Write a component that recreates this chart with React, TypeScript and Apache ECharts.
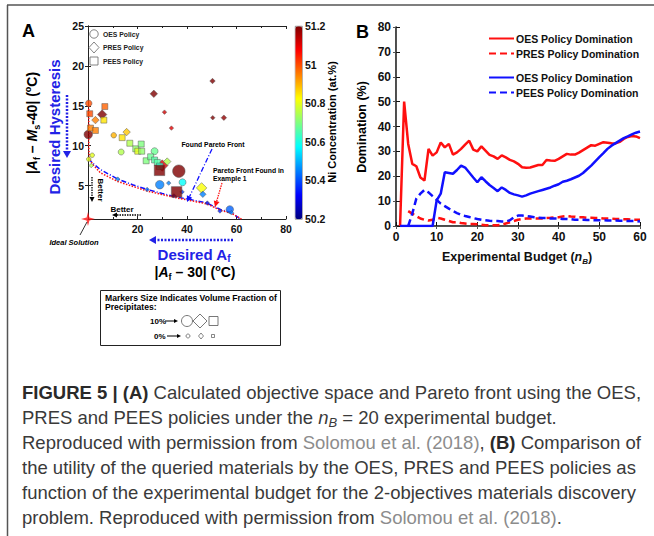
import React, { useEffect, useRef } from 'react';
import * as echarts from 'echarts';

const FONT = '"Liberation Sans", Arial, Helvetica, sans-serif';

// ---------- Panel A data: [ |Af-30| , |Af-Ms-40| , Ni at.% , volume fraction % ] ----------
const oesPoints = [
  [0.3, 15.3, 51.0, 2], [0.1, 11.4, 51.2, 4], [1.7, 8.8, 50.8, 0], [0.3, 8.3, 50.8, 0],
  [10.4, 11.3, 50.9, 1], [13.4, 9.2, 50.75, 1.5], [26.9, 9.3, 50.68, 2.5], [36.7, 6.8, 51.2, 8],
  [29.0, 5.1, 50.45, 4], [38.2, 5.4, 50.58, 2.5], [57.3, 2.0, 50.42, 3],
];
const presPoints = [
  [3.0, 13.2, 50.95, 3], [5.7, 13.9, 51.2, 5], [15.6, 11.7, 50.88, 3], [30.0, 7.5, 51.1, 7],
  [32.0, 8.0, 50.75, 3], [45.9, 4.7, 50.82, 6], [46.4, 3.9, 50.45, 2], [32.6, 5.3, 50.45, 0],
  [38.0, 4.2, 50.38, 0], [26.6, 16.5, 51.2, 3], [50.3, 18.1, 51.2, 1], [30.9, 14.2, 51.12, 0],
  [33.7, 12.2, 51.1, 0], [50.4, 13.5, 51.2, 0], [54.9, 13.5, 51.18, 1], [1.3, 7.5, 50.75, 0],
  [12.0, 5.8, 50.45, 0], [23.9, 4.5, 50.42, 0], [34.7, 3.7, 50.35, 0], [48.2, 2.8, 50.3, 0],
  [53.3, 1.8, 50.35, 0], [57.9, 1.6, 50.45, 0],
];
const peesPoints = [
  [0.7, 14.0, 51.0, 1.5], [1.0, 12.2, 50.95, 1.5], [3.0, 11.9, 50.95, 1.5], [6.4, 13.2, 50.85, 1.5],
  [6.8, 14.9, 50.98, 1.5], [13.8, 11.0, 50.85, 1.5], [16.9, 10.3, 50.75, 1.5], [19.3, 9.6, 50.72, 1.5],
  [20.1, 9.3, 50.8, 1.5], [21.5, 10.2, 50.7, 1.5], [21.7, 9.3, 50.72, 1.5], [23.5, 8.1, 50.7, 1.5],
  [25.3, 8.6, 50.68, 1.5], [26.9, 8.2, 50.66, 1.5], [28.0, 7.9, 50.66, 1.5], [29.0, 7.4, 50.62, 2],
  [28.9, 6.9, 51.2, 6], [35.8, 4.2, 51.2, 6],
];
const frontFoundX = [0.3, 1.5, 5, 12, 18, 24, 30, 35, 42, 48, 53.5, 58, 61.5];
const frontFoundY = [8.4, 7.9, 7.0, 5.8, 5.1, 4.5, 4.0, 3.6, 3.2, 2.8, 2.0, 1.6, 0.8];
const frontEx1X = [0.3, 0.3, 0.5, 2, 5, 12, 24, 35, 48, 53.5, 58, 62];
const frontEx1Y = [15.0, 10.0, 8.4, 7.6, 6.6, 5.5, 4.3, 3.5, 2.7, 1.9, 1.5, 0.8];
const idealSolution = [[0, 0.8]];
const aYTicks = [5, 10, 15, 20, 25];

// ---------- Panel B data ----------
const budget = [1, 2, 3, 4, 5, 6, 7, 8, 9, 10, 11, 12, 13, 14, 15, 16, 17, 18, 19, 20, 21, 22, 23, 24, 25, 26, 27, 28, 29, 30,
  31, 32, 33, 34, 35, 36, 37, 38, 39, 40, 41, 42, 43, 44, 45, 46, 47, 48, 49, 50, 51, 52, 53, 54, 55, 56, 57, 58, 59, 60];
const oesVsPres = [0, 50, 33, 25, 24, 19.5, 18.3, 31, 28.3, 29.6, 33.6, 31.6, 33, 28.7, 29.6, 31, 32.7, 34.3, 30.7, 30,
  32, 30.3, 28.6, 28, 27, 28.4, 27.6, 26.6, 26, 25, 23.6, 23.4, 23.5, 24, 24.5, 24.5, 26.5, 26.3, 26.2, 27,
  28, 29, 28.7, 28.7, 29.5, 30.5, 31.5, 32.5, 32.3, 33, 33.7, 33.5, 33.3, 33.2, 33.8, 35, 35.8, 36.2, 36, 35.3];
const presDom = [null, null, 6, 5, 4, 3, 2.5, 2.2, 2.5, 3.3, 3, 2.5, 2, 1.5, 1.5, 1.2, 1, 0.8, 0.8, 0.7,
  0.5, 0.3, 0.3, 0.3, 0.3, 0.5, 1, 1.5, 2, 2.5, 2.8, 3, 3, 3, 3, 3, 3.2, 3.3, 3.5, 3.5,
  3.8, 4, 3.8, 3.7, 3.5, 3.5, 3.3, 3.3, 3.2, 3.2, 3, 3, 3, 2.8, 2.8, 2.7, 2.7, 2.5, 2.5, 2.5];
const oesVsPees = [0, 0, 0, 0, 0, 0, 0, 0, 0, 10.3, 13, 21.6, 21.3, 21, 22.5, 24.3, 23.5, 21.5, 19.5, 17.6,
  19.6, 18, 16.5, 15.3, 14, 15.5, 14.5, 13.3, 12.7, 12.3, 11.8, 12.3, 13, 13.5, 14, 14.5, 15, 15.5, 16.2, 16.8,
  17.8, 18.2, 18.8, 19.5, 20.2, 21.3, 22.8, 24.3, 26, 27.7, 29.3, 31, 32.3, 33.3, 34.3, 35.3, 36, 36.8, 37.5, 38];
const peesDom = [null, null, 0, 5, 11, 13, 14.5, 13.5, 12, 10.5, 9, 8, 7, 6, 5.2, 4.5, 4, 3.6, 3.2, 2.8,
  2.5, 2.3, 2.1, 2, 2, 1.8, 1.8, 2.3, 3.5, 4.2, 4.2, 4, 3.8, 3.5, 3.3, 3.2, 3.2, 3, 3, 3,
  2.8, 2.8, 2.7, 2.5, 2.5, 2.5, 2.4, 2.4, 2.3, 2.3, 2.3, 2.2, 2.2, 2.2, 2.1, 2.1, 2, 2, 2, 1.8];

const JET = ['#00007f', '#0000ff', '#007fff', '#00ffff', '#7fff7f', '#ffff00', '#ff7f00', '#ff0000', '#7f0000'];
const RED = '#ff1010';
const BLUE = '#1010ff';
const DBLUE = '#2222e6';

function arrow(x1: number, y1: number, x2: number, y2: number, color: string, dash: any, lw: number, head = 6, hw = 3.5) {
  const dx = x2 - x1, dy = y2 - y1;
  const L = Math.hypot(dx, dy);
  const ux = dx / L, uy = dy / L;
  const bx = x2 - ux * head, by = y2 - uy * head;
  return [
    { type: 'line', z: 100, silent: true, shape: { x1, y1, x2: bx, y2: by }, style: { stroke: color, lineWidth: lw, lineDash: dash } },
    { type: 'polygon', z: 100, silent: true, shape: { points: [[x2, y2], [bx - uy * hw, by + ux * hw], [bx + uy * hw, by - ux * hw]] }, style: { fill: color } },
  ];
}

function txt(x: number, y: number, text: string, extra: any = {}, rich: any = undefined, rotation = 0) {
  return {
    type: 'text', z: 100, silent: true, x, y, rotation,
    style: Object.assign({ text, fontFamily: FONT, fontSize: 12, fontWeight: 'bold', fill: '#000', align: 'left', verticalAlign: 'middle', rich }, extra),
  };
}

function richSet(size: number, color: string, weight = 'bold') {
  return {
    i: { fontFamily: FONT, fontSize: size, fontWeight: weight, fontStyle: 'italic', fill: color, lineHeight: size + 4, verticalAlign: 'middle' },
    n: { fontFamily: FONT, fontSize: size, fontWeight: weight, fill: color, lineHeight: size + 4, verticalAlign: 'middle' },
    sub: { fontFamily: FONT, fontSize: Math.round(size * 0.65), fontWeight: weight, fill: color, lineHeight: size * 0.65, verticalAlign: 'bottom' },
    isub: { fontFamily: FONT, fontSize: Math.round(size * 0.65), fontWeight: weight, fontStyle: 'italic', fill: color, lineHeight: size * 0.65, verticalAlign: 'bottom' },
    sup: { fontFamily: FONT, fontSize: Math.round(size * 0.65), fontWeight: weight, fill: color, lineHeight: size * 0.65, verticalAlign: 'top' },
  };
}

function captionRich() {
  const base = { fontFamily: FONT, fontSize: 18.5, fill: '#3a3a3a', lineHeight: 23, verticalAlign: 'middle' };
  return {
    r: { ...base },
    b: { ...base, fontWeight: 'bold', fill: '#2a2a2a' },
    g: { ...base, fill: '#8c8c8c' },
    ni: { ...base, fontStyle: 'italic' },
    ns: { ...base, fontSize: 13, fontStyle: 'italic', lineHeight: 13, verticalAlign: 'bottom' },
  };
}

export default function App() {
  const ref = useRef<HTMLDivElement>(null);
  useEffect(() => {
    if (!ref.current) return;
    const chart = echarts.init(ref.current, null, { renderer: 'svg' });
    const sizeFn = (v: number[]) => 4.5 + v[3] * 1.0;
    const scatterCommon = {
      type: 'scatter', xAxisIndex: 0, yAxisIndex: 0, clip: false, z: 5,
      itemStyle: { borderColor: '#555', borderWidth: 0.6 },
      symbolSize: sizeFn,
    };
    const axisFont = { fontFamily: FONT, fontWeight: 'bold', color: '#111' };
    const SM = 6.8;

    const graphic: any[] = [];
    // figure frame
    graphic.push({ type: 'line', z: 100, shape: { x1: 7, y1: 5, x2: 654, y2: 5 }, style: { stroke: '#555', lineWidth: 1.5 } });
    graphic.push({ type: 'line', z: 100, shape: { x1: 7.5, y1: 5, x2: 7.5, y2: 536 }, style: { stroke: '#555', lineWidth: 1.5 } });
    // panel letters
    graphic.push(txt(22, 31, 'A', { fontSize: 18 }));
    graphic.push(txt(356, 32, 'B', { fontSize: 18 }));
    // Panel A axis titles
    const rA = richSet(14, '#000');
    graphic.push(txt(32, 123, '{n||}{i|A}{sub|f}{n| – }{i|M}{sub|s}{n|-40| (}{sup|o}{n|C)}', { align: 'center' }, rA, Math.PI / 2));
    const rAx = richSet(14, '#000');
    graphic.push(txt(195, 272, '{n||}{i|A}{sub|f}{n| – 30| (}{sup|o}{n|C)}', { align: 'center' }, rAx));
    const rBlue = richSet(15, DBLUE);
    graphic.push(txt(194, 254, '{n|Desired A}{sub|f}', { align: 'center' }, rBlue));
    graphic.push(txt(54, 127, 'Desired Hysteresis', { align: 'center', fontSize: 15, fill: DBLUE }, undefined, Math.PI / 2));
    graphic.push(...arrow(67, 95, 67, 158, DBLUE, [2, 1.5], 2.5, 7, 4));
    graphic.push(...arrow(233, 240, 149, 240, DBLUE, [2, 1.5], 2.5, 7, 4));
    // Better arrows
    graphic.push(...arrow(92, 177, 92, 202, '#000', [1.5, 1], 1.3, 5, 2.5));
    graphic.push(txt(100, 190, 'Better', { align: 'center', fontSize: 8 }, undefined, -Math.PI / 2));
    graphic.push(...arrow(141, 215, 112, 215, '#000', [1.5, 1], 1.3, 5, 2.5));
    graphic.push(txt(122, 209, 'Better', { align: 'center', fontSize: 8 }));
    // Ideal solution
    graphic.push({ type: 'line', z: 100, shape: { x1: 80, y1: 235, x2: 87, y2: 222 }, style: { stroke: '#000', lineWidth: 0.8 } });
    graphic.push(txt(74, 242, 'Ideal Solution', { align: 'center', fontSize: 7.5, fontStyle: 'italic' }));
    // Pareto annotations
    graphic.push(txt(213, 144, 'Found Pareto Front', { align: 'center', fontSize: SM }));
    graphic.push(...arrow(212, 149, 187, 202, BLUE, [5, 2, 1, 2], 1.3, 6, 3));
    graphic.push(txt(213, 170, 'Pareto Front Found in', { fontSize: SM }));
    graphic.push(txt(213, 178, 'Example 1', { fontSize: SM }));
    graphic.push(...arrow(222, 183, 215, 207, RED, [1.5, 1], 1.3, 6, 3));
    // in-plot legend of policies
    graphic.push({ type: 'circle', z: 100, shape: { cx: 94, cy: 34, r: 4.2 }, style: { fill: '#fff', stroke: '#666', lineWidth: 0.8 } });
    graphic.push({ type: 'polygon', z: 100, shape: { points: [[94, 42], [99, 47.5], [94, 53], [89, 47.5]] }, style: { fill: '#fff', stroke: '#666', lineWidth: 0.8 } });
    graphic.push({ type: 'rect', z: 100, shape: { x: 90, y: 57, width: 8, height: 8 }, style: { fill: '#fff', stroke: '#666', lineWidth: 0.8 } });
    graphic.push(txt(103, 34, 'OES Policy', { fontSize: SM, fill: '#222' }));
    graphic.push(txt(103, 47.5, 'PRES Policy', { fontSize: SM, fill: '#222' }));
    graphic.push(txt(103, 61, 'PEES Policy', { fontSize: SM, fill: '#222' }));
    // Colorbar title
    graphic.push(txt(332, 122, 'Ni Concentration (at.%)', { align: 'center', fontSize: 11 }, undefined, Math.PI / 2));
    // Marker-size legend box
    graphic.push({ type: 'rect', z: 100, shape: { x: 100.5, y: 290.5, width: 180, height: 55 }, style: { fill: '#fff', stroke: '#222', lineWidth: 1 } });
    graphic.push(txt(105, 298, 'Markers Size Indicates Volume Fraction of', { fontSize: 8.6 }));
    graphic.push(txt(105, 306.5, 'Precipitates:', { fontSize: 8.6 }));
    graphic.push(txt(150, 321, '10%', { fontSize: 8 }));
    graphic.push(...arrow(165, 321, 178, 321, '#000', null, 1, 4, 2));
    graphic.push({ type: 'circle', z: 100, shape: { cx: 187, cy: 321, r: 5.5 }, style: { fill: '#fff', stroke: '#555', lineWidth: 0.8 } });
    graphic.push({ type: 'polygon', z: 100, shape: { points: [[200, 314], [207, 321], [200, 328], [193, 321]] }, style: { fill: '#fff', stroke: '#555', lineWidth: 0.8 } });
    graphic.push({ type: 'rect', z: 100, shape: { x: 209, y: 316.5, width: 9, height: 9 }, style: { fill: '#fff', stroke: '#555', lineWidth: 0.8 } });
    graphic.push(txt(154, 336, '0%', { fontSize: 8 }));
    graphic.push(...arrow(167, 336, 181, 336, '#000', null, 1, 4, 2));
    graphic.push({ type: 'circle', z: 100, shape: { cx: 188, cy: 336, r: 2 }, style: { fill: '#fff', stroke: '#555', lineWidth: 0.7 } });
    graphic.push({ type: 'polygon', z: 100, shape: { points: [[201, 333], [203.5, 336], [201, 339], [198.5, 336]] }, style: { fill: '#fff', stroke: '#555', lineWidth: 0.7 } });
    graphic.push({ type: 'rect', z: 100, shape: { x: 211.5, y: 334.5, width: 3, height: 3 }, style: { fill: '#fff', stroke: '#555', lineWidth: 0.7 } });
    // Panel B axis titles
    graphic.push(txt(362, 127, 'Domination (%)', { align: 'center', fontSize: 12.5 }, undefined, Math.PI / 2));
    const rB = richSet(12.5, '#111');
    graphic.push(txt(517, 257, '{n|Experimental Budget (}{i|n}{isub|B}{n|)}', { align: 'center' }, rB));
    // Caption
    const cr = captionRich();
    const capLines = [
      '{b|FIGURE 5 | (A)}{r| Calculated objective space and Pareto front using the OES,}',
      '{r|PRES and PEES policies under the }{ni|n}{ns|B}{r| = 20 experimental budget.}',
      '{r|Reproduced with permission from }{g|Solomou et al. (2018)}{r|, }{b|(B)}{r| Comparison of}',
      '{r|the utility of the queried materials by the OES, PRES and PEES policies as}',
      '{r|function of the experimental budget for the 2-objectives materials discovery}',
      '{r|problem. Reproduced with permission from }{g|Solomou et al. (2018)}{r|.}',
    ];
    capLines.forEach((l, i) => graphic.push(txt(22, 392 + i * 25, l, { fontSize: 18.5, fontWeight: 'normal' }, cr)));

    const lineB = (name: string, vals: any[], color: string, dashed: boolean) => ({
      name, type: 'line', xAxisIndex: 3, yAxisIndex: 3, symbol: 'none', z: 3,
      lineStyle: { color, width: 2.5, type: dashed ? [7, 4] : 'solid' },
      itemStyle: { color },
      data: budget.map((b, i) => [b, vals[i] == null ? '-' : vals[i]]),
    });
    const legendCommon = {
      orient: 'vertical', left: 488, itemWidth: 25, itemHeight: 10, itemGap: 4, padding: 0,
      itemStyle: { opacity: 0 }, formatter: (n: string) => n.trim(),
      textStyle: { fontFamily: FONT, fontWeight: 'bold', fontSize: 10.5, color: '#111', padding: [0, 0, 0, -3] },
    };

    const option: any = {
      animation: false,
      backgroundColor: '#fff',
      grid: [
        { left: 88, top: 26, width: 198, height: 193 },
        { left: 295, top: 26, width: 7, height: 193 },
        { left: 396, top: 27, width: 244, height: 199 },
      ],
      xAxis: [
        { gridIndex: 0, type: 'value', min: 0, max: 80, interval: 20, position: 'bottom',
          axisLine: { lineStyle: { color: '#222', width: 1 } }, axisTick: { inside: true, length: 3, lineStyle: { color: '#222' } },
          minorTick: { show: true, splitNumber: 2, length: 2 }, splitLine: { show: false },
          axisLabel: { ...axisFont, fontSize: 10.5, margin: 4, showMinLabel: false } },
        { gridIndex: 0, type: 'value', min: 0, max: 80, interval: 20, position: 'top',
          axisLine: { lineStyle: { color: '#222', width: 1 } }, axisTick: { inside: true, length: 3, lineStyle: { color: '#222' } },
          minorTick: { show: true, splitNumber: 2, length: 2 }, splitLine: { show: false }, axisLabel: { show: false } },
        { gridIndex: 1, type: 'value', min: 0, max: 1, show: false },
        { gridIndex: 2, type: 'value', min: 0, max: 60, interval: 10, position: 'bottom',
          axisLine: { lineStyle: { color: '#111', width: 1.5 } }, axisTick: { inside: true, length: 4, lineStyle: { color: '#111' } },
          splitLine: { show: false }, axisLabel: { ...axisFont, fontSize: 12, margin: 5 } },
        { gridIndex: 2, type: 'value', min: 0, max: 60, interval: 10, position: 'top',
          axisLine: { lineStyle: { color: '#555', width: 0.8 } }, axisTick: { inside: true, length: 3, lineStyle: { color: '#555' } },
          splitLine: { show: false }, axisLabel: { show: false } },
      ],
      yAxis: [
        { gridIndex: 0, type: 'value', min: 0.8, max: 25, position: 'left',
          axisLine: { show: true, lineStyle: { color: '#222', width: 1 } },
          axisTick: { show: true, inside: true, length: 3, customValues: aYTicks, lineStyle: { color: '#222' } },
          splitLine: { show: false },
          axisLabel: { ...axisFont, fontSize: 10.5, margin: 4, customValues: aYTicks } },
        { gridIndex: 0, type: 'value', min: 0.8, max: 25, position: 'right',
          axisLine: { show: true, lineStyle: { color: '#222', width: 1 } },
          axisTick: { show: true, inside: true, length: 3, customValues: aYTicks, lineStyle: { color: '#222' } },
          splitLine: { show: false }, axisLabel: { show: false } },
        { gridIndex: 1, type: 'value', min: 50.2, max: 51.2, interval: 0.2, position: 'right',
          axisLine: { show: false }, axisTick: { show: false }, splitLine: { show: false },
          axisLabel: { ...axisFont, fontSize: 10.5, margin: 3 } },
        { gridIndex: 2, type: 'value', min: 0, max: 80, interval: 10, position: 'left',
          axisLine: { show: true, lineStyle: { color: '#111', width: 1.5 } },
          axisTick: { show: true, inside: true, length: 4, lineStyle: { color: '#111' } },
          splitLine: { show: false }, axisLabel: { ...axisFont, fontSize: 12, margin: 5 } },
        { gridIndex: 2, type: 'value', min: 0, max: 80, interval: 10, position: 'right',
          axisLine: { show: true, lineStyle: { color: '#555', width: 0.8 } },
          axisTick: { show: true, inside: true, length: 3, lineStyle: { color: '#555' } },
          splitLine: { show: false }, axisLabel: { show: false } },
      ],
      visualMap: {
        type: 'continuous', min: 50.2, max: 51.2, dimension: 2, seriesIndex: [0, 1, 2],
        inRange: { color: JET }, calculable: false, hoverLink: false,
        left: 295, top: 26, itemWidth: 7, itemHeight: 193, padding: 0,
        borderColor: '#333', borderWidth: 0.5, text: null,
      },
      legend: [
        { ...legendCommon, top: 33, data: ['OES Policy Domination', 'PRES Policy Domination'] },
        { ...legendCommon, top: 72, data: ['OES Policy Domination ', 'PEES Policy Domination'] },
      ],
      graphic,
      series: [
        { ...scatterCommon, name: 'OES Policy', symbol: 'circle', data: oesPoints },
        { ...scatterCommon, name: 'PRES Policy', symbol: 'diamond', data: presPoints },
        { ...scatterCommon, name: 'PEES Policy', symbol: 'rect', data: peesPoints },
        { type: 'line', name: 'Found Pareto Front', xAxisIndex: 0, yAxisIndex: 0, symbol: 'none', z: 2, clip: false,
          lineStyle: { color: BLUE, width: 1.5, type: [5, 2, 1, 2] }, data: frontFoundX.map((x, i) => [x, frontFoundY[i]]) },
        { type: 'line', name: 'Pareto Front Example 1', xAxisIndex: 0, yAxisIndex: 0, symbol: 'none', z: 2, clip: false,
          lineStyle: { color: RED, width: 1.5, type: [1.5, 1.5] }, data: frontEx1X.map((x, i) => [x, frontEx1Y[i]]) },
        { type: 'scatter', name: 'Ideal Solution', xAxisIndex: 0, yAxisIndex: 0, clip: false, z: 10,
          symbol: 'path://M0,-10 L2,-2 L10,0 L2,2 L0,10 L-2,2 L-10,0 L-2,-2 Z', symbolSize: 14,
          itemStyle: { color: RED }, data: idealSolution },
        lineB('OES Policy Domination', oesVsPres, RED, false),
        lineB('PRES Policy Domination', presDom, RED, true),
        lineB('OES Policy Domination ', oesVsPees, BLUE, false),
        lineB('PEES Policy Domination', peesDom, BLUE, true),
      ],
    };
    chart.setOption(option);
    return () => chart.dispose();
  }, []);
  return <div ref={ref} style={{ position: 'fixed', left: 0, top: 0, width: 654, height: 536, background: '#fff' }} />;
}
